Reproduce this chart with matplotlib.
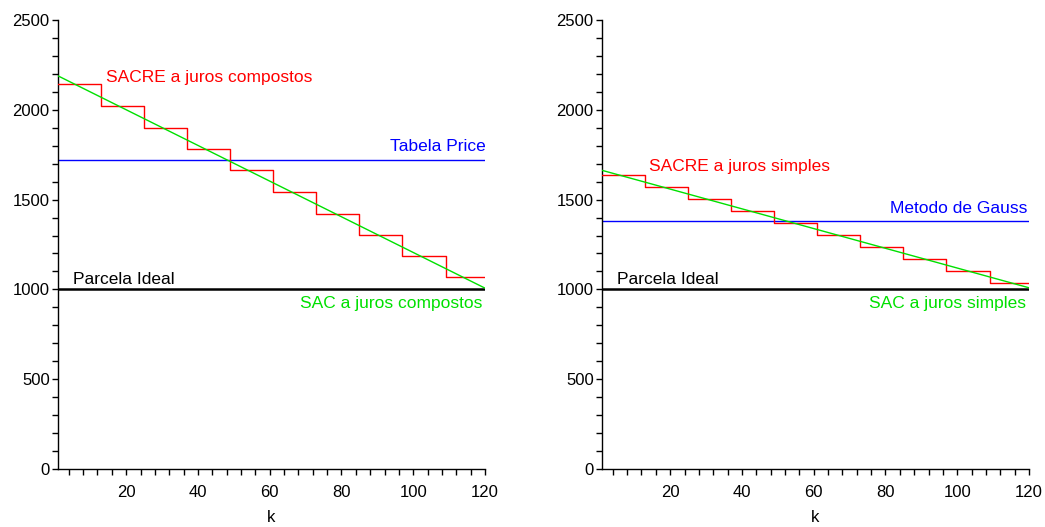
import matplotlib
matplotlib.use("Agg")
import matplotlib.pyplot as plt
from matplotlib.ticker import MultipleLocator

plt.rcParams['font.family'] = ['Liberation Sans', 'DejaVu Sans']

# ---- data ----
step_edges = [1, 13, 25, 37, 49, 61, 73, 85, 97, 109, 120]
sacre_compostos = [2144, 2022, 1900, 1784, 1666, 1543, 1422, 1304, 1185, 1068]
sacre_simples = [1637, 1570, 1502, 1437, 1372, 1304, 1235, 1170, 1104, 1037]
sac_k = [1, 120]
sac_compostos = [2189, 1007]
sac_simples = [1663, 1009]
price = 1720
gauss = 1379
ideal = 1000

panels = [
    dict(sacre=sacre_compostos, sac=sac_compostos, flat=price,
         sacre_lbl="SACRE a juros compostos", flat_lbl="Tabela Price",
         sac_lbl="SAC a juros compostos",
         sacre_pos=(14.3, 2156), flat_pos=(120.3, 1772), sac_pos=(119.4, 894)),
    dict(sacre=sacre_simples, sac=sac_simples, flat=gauss,
         sacre_lbl="SACRE a juros simples", flat_lbl="Metodo de Gauss",
         sac_lbl="SAC a juros simples",
         sacre_pos=(14.2, 1661), flat_pos=(119.5, 1424), sac_pos=(119.2, 894)),
]

LBL = 12.5
fig = plt.figure(figsize=(10.45, 5.27), dpi=100)
lefts = [58 / 1045, 602 / 1045]
for left, p in zip(lefts, panels):
    ax = fig.add_axes([left, 1 - 469 / 527, 427 / 1045, 449 / 527])
    ax.set_xlim(1, 120)
    ax.set_ylim(0, 2500)
    vals = p["sacre"] + [p["sacre"][-1]]
    ax.step(step_edges, vals, where='post', color='#ff0000', lw=1.0, zorder=3)
    ax.plot(sac_k, p["sac"], color='#00e000', lw=1.0, zorder=4)
    ax.axhline(p["flat"], color='#0000ff', lw=1.0, zorder=2)
    ax.axhline(ideal, color='black', lw=1.8, zorder=2)

    ax.text(p["sacre_pos"][0], p["sacre_pos"][1], p["sacre_lbl"], color='#ff0000',
            fontsize=LBL, ha='left', va='baseline')
    ax.text(p["flat_pos"][0], p["flat_pos"][1], p["flat_lbl"], color='#0000ff',
            fontsize=LBL, ha='right', va='baseline')
    ax.text(5.3, 1031, "Parcela Ideal", color='black', fontsize=LBL,
            ha='left', va='baseline')
    ax.text(p["sac_pos"][0], p["sac_pos"][1], p["sac_lbl"], color='#00e000',
            fontsize=LBL, ha='right', va='baseline')

    for s in ['top', 'right']:
        ax.spines[s].set_visible(False)
    for s in ['left', 'bottom']:
        ax.spines[s].set_linewidth(1.0)
    ax.xaxis.set_major_locator(MultipleLocator(20))
    ax.xaxis.set_minor_locator(MultipleLocator(4))
    ax.yaxis.set_major_locator(MultipleLocator(500))
    ax.yaxis.set_minor_locator(MultipleLocator(100))
    ax.tick_params(which='both', direction='out', length=4.5, width=1.0,
                   labelsize=12, pad=1.5)
    ax.tick_params(axis='x', which='major', pad=7)
    ax.set_xlabel("k", fontsize=12, labelpad=7)
    ax.patch.set_visible(False)

fig.savefig("out.png", dpi=100)
